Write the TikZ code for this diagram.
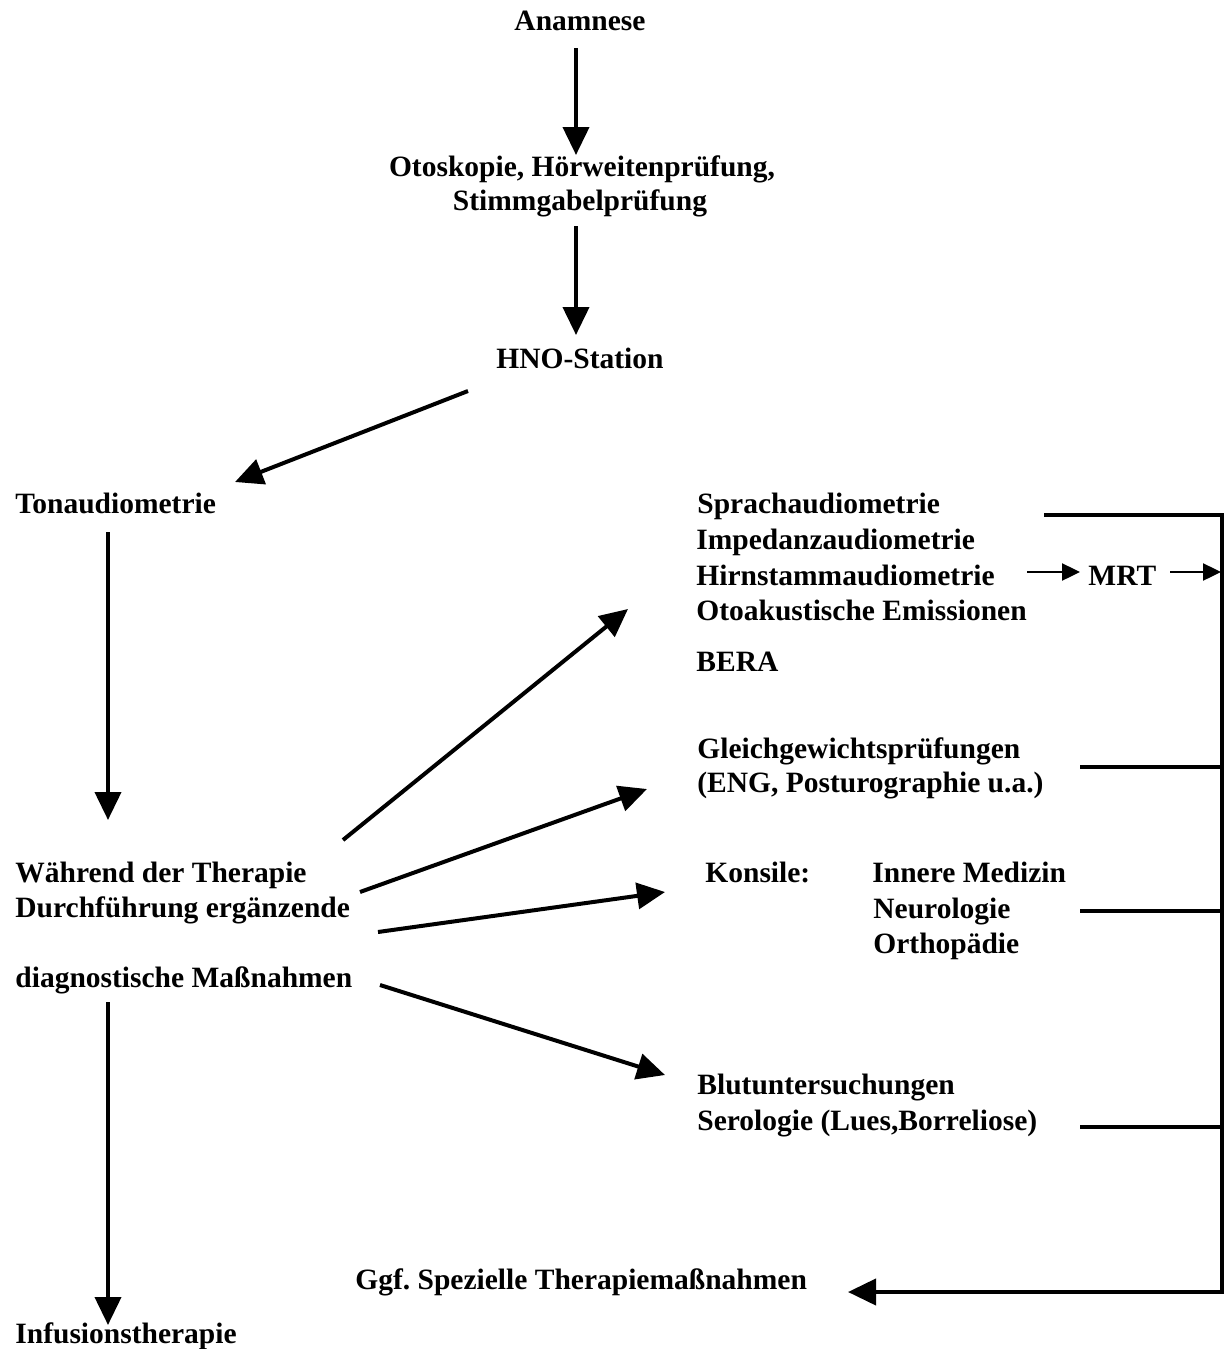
\documentclass[tikz,border=0pt]{standalone}
\usepackage{fontspec}
\setmainfont{Liberation Serif}
\usetikzlibrary{arrows.meta,calc}
\begin{document}
\frenchspacing
\begin{tikzpicture}[x=0.5pt,y=-0.5pt,
  txt/.style={inner sep=0pt, font=\fontsize{14.75pt}{17.5pt}\selectfont\bfseries},
  lt/.style={txt, anchor=base west},
  ct/.style={txt, anchor=base},
  arr/.style={line width=2pt, line join=miter, -{Triangle[length=14pt,width=13pt]}},
  sarr/.style={line width=1.2pt, -{Triangle[length=9pt,width=8.5pt]}},
  bus/.style={line width=2pt}]
\useasboundingbox (0,0) rectangle (1224,1349);

% main column
\node[ct] (ana)   at (580,30)  {Anamnese};
\node[ct] (oto)   at (582,176) {Otoskopie, Hörweitenprüfung,};
\node[ct] (stim)  at (580,210) {Stimmgabelprüfung};
\node[ct] (hno)   at (580,368) {HNO-Station};
\node[lt] (ton)   at (15,513)  {Tonaudiometrie};
\node[lt] (wah)   at (15,882)  {Während der Therapie};
\node[lt] (durch) at (15,917)  {Durchführung ergänzende};
\node[lt] (diag)  at (15,987)  {diagnostische Maßnahmen};
\node[lt] (inf)   at (15,1343) {Infusionstherapie};

% right column
\node[lt] (sprach) at (697,513) {Sprachaudiometrie};
\node[lt] (imp)    at (696,549) {Impedanzaudiometrie};
\node[lt] (hirn)   at (696,585) {Hirnstammaudiometrie};
\node[lt] (otoak)  at (696,620) {Otoakustische Emissionen};
\node[lt] (bera)   at (696,671) {BERA};
\node[lt] (mrt)    at (1088,585) {MRT};
\node[lt] (gleich) at (697,758) {Gleichgewichtsprüfungen};
\node[lt] (eng)    at (697,792) {(ENG, Posturographie u.a.)};
\node[lt] (kons)   at (705,882) {Konsile:};
\node[lt] (inn)    at (872,882) {Innere Medizin};
\node[lt] (neuro)  at (873,918) {Neurologie};
\node[lt] (ortho)  at (873,953) {Orthopädie};
\node[lt] (blut)   at (697,1094) {Blutuntersuchungen};
\node[lt] (sero)   at (697,1130) {Serologie (Lues,Borreliose)};
\node[lt] (ggf)    at (355,1289) {Ggf. Spezielle Therapiemaßnahmen};

% vertical chain
\draw[arr] ($(ana.base)+(-4,18)$) -- ($(oto.base)+(-6,-21)$);
\draw[arr] ($(stim.base)+(-4,16)$) -- ($(hno.base)+(-4,-33)$);
\draw[arr] ($(hno.base)+(-112,23)$) -- ($(ton.base west)+(220,-31)$);
\draw[arr] ($(ton.base west)+(93,19)$) -- ($(wah.base west)+(93,-62)$);
\draw[arr] ($(diag.base west)+(93,15)$) -- ($(inf.base west)+(93,-18)$);

% fan
\draw[arr] ($(wah.base west)+(328,-42)$) -- ($(otoak.base west)+(-68,-11)$);
\draw[arr] ($(durch.base west)+(345,-25)$) -- ($(eng.base west)+(-50,-3)$);
\draw[arr] ($(durch.base west)+(363,15)$) -- ($(kons.base west)+(-40,10)$);
\draw[arr] ($(diag.base west)+(365,-2)$) -- ($(blut.base west)+(-32,-19)$);

% MRT
\coordinate (bustop) at (1222,515);
\coordinate (busbot) at (1222,1292);
\draw[sarr] ($(hirn.base west)+(331,-13)$) -- ($(mrt.base west)+(-8,-13)$);
\coordinate (mrtout) at ($(mrt.base west)+(82,-13)$);
\draw[sarr] (mrtout) -- ($(mrtout -| bustop)+(-1,0)$);

% collecting lines
\coordinate (t2) at ($(eng.base west)+(383,-25)$);
\coordinate (t3) at ($(neuro.base west)+(207,-7)$);
\coordinate (t4) at ($(sero.base west)+(383,-3)$);
\draw[bus] (t2) -- (t2 -| bustop);
\draw[bus] (t3) -- (t3 -| bustop);
\draw[bus] (t4) -- (t4 -| bustop);
\draw[arr] ($(sprach.base west)+(347,2)$) -- (bustop) -- (busbot) -- ($(ggf.base west)+(493,3)$);
\end{tikzpicture}
\end{document}
